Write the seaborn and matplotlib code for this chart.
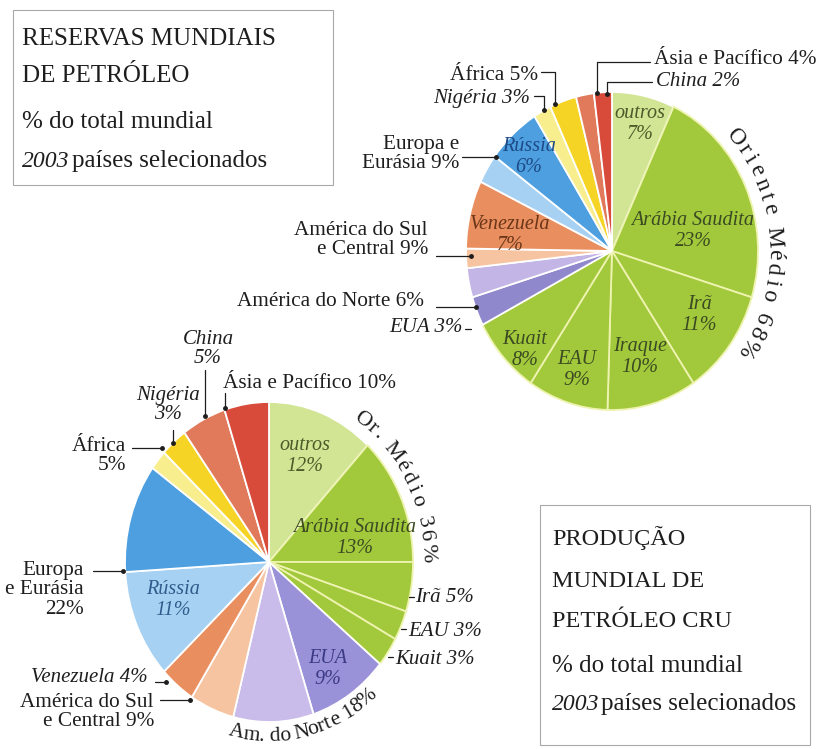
import numpy as np
import matplotlib.pyplot as plt
import seaborn as sns

sns.set_theme(style='white')
plt.rcParams['font.family'] = ['Liberation Serif', 'DejaVu Serif']

# Reservas mundiais de petróleo (% do total mundial, 2003), sentido horário a partir do topo
reservas = np.array([7, 23, 11, 10, 9, 8, 3, 3, 2, 7, 3, 6, 2, 3, 2, 2])
cores_reservas = ['#d2e595', '#a2c83b', '#a2c83b', '#a2c83b', '#a2c83b', '#a2c83b',
                  '#8f88cc', '#c3b5e5', '#f6c4a0', '#e98f5f', '#a6d1f2', '#4e9fe0',
                  '#f8ee8e', '#f6d425', '#e07a5b', '#d84a3a']

# Produção mundial de petróleo cru
producao = np.array([12, 13, 5, 3, 3, 9, 9, 5, 4, 11, 11, 2, 3, 5, 5])
cores_producao = ['#d2e595', '#a2c83b', '#a2c83b', '#a2c83b', '#a2c83b',
                  '#9a92d8', '#c9bbea', '#f6c4a0', '#e98f5f', '#a6d1f2', '#4e9fe0',
                  '#f8ee8e', '#f6d425', '#e07a5b', '#d84a3a']

# Pixel geometry of the two (slightly oval) pies
W, H = 819, 749
cx1, cy1, rx1, ry1 = 612, 251, 146, 159
cx2, cy2, rx2, ry2 = 269, 562, 144, 160

plt.figure(figsize=(W / 100, H / 100), dpi=100, facecolor='white')

# Draw both pies
for valores, cores, cx, cy, rx, ry, verdes in [(reservas, cores_reservas, cx1, cy1, rx1, ry1, 6),
                                               (producao, cores_producao, cx2, cy2, rx2, ry2, 5)]:
    plt.axes([(cx - 1.25 * rx) / W, 1 - (cy + 1.25 * ry) / H, 2.5 * rx / W, 2.5 * ry / H])
    wedges, _ = plt.pie(valores, colors=cores, startangle=90, counterclock=False,
                        wedgeprops={'edgecolor': 'white', 'linewidth': 1.3})
    for w in wedges[1:verdes]:
        w.set_edgecolor('#eef3b0')  # pale lines inside the green part
    plt.gca().set_aspect('auto')
    plt.xlim(-1.25, 1.25)
    plt.ylim(-1.25, 1.25)

# Overlay in pixel coordinates for boxes, labels and connectors
plt.axes([0, 0, 1, 1])
plt.xlim(0, W)
plt.ylim(H, 0)
plt.axis('off')

tinta = '#1e1e1e'

# Title boxes
plt.gca().add_patch(plt.Rectangle((13, 10), 320, 175, fill=False, edgecolor='#a8a8a8', linewidth=0.8))
plt.text(22, 45, 'RESERVAS MUNDIAIS', fontsize=18, color=tinta, va='baseline')
plt.text(22, 82, 'DE PETRÓLEO', fontsize=18, color=tinta, va='baseline')
plt.text(22, 128, '% do total mundial', fontsize=18, color=tinta, va='baseline')
plt.text(22, 167, '2003', fontsize=17, color=tinta, va='baseline', style='italic')
plt.text(72, 167, 'países selecionados', fontsize=18, color=tinta, va='baseline')

plt.gca().add_patch(plt.Rectangle((540, 505), 270, 240, fill=False, edgecolor='#a8a8a8', linewidth=0.8))
plt.text(552, 545, 'PRODUÇÃO', fontsize=17.5, color=tinta, va='baseline')
plt.text(552, 587, 'MUNDIAL DE', fontsize=17.5, color=tinta, va='baseline')
plt.text(552, 627, 'PETRÓLEO CRU', fontsize=17.5, color=tinta, va='baseline')
plt.text(552, 672, '% do total mundial', fontsize=18, color=tinta, va='baseline')
plt.text(552, 710, '2003', fontsize=17, color=tinta, va='baseline', style='italic')
plt.text(601, 710, 'países selecionados', fontsize=18, color=tinta, va='baseline')

# Labels inside the slices
dentro = [
    ('outros\n7%', 640, 124, '#4a5a28'),
    ('Arábia Saudita\n23%', 693, 231, '#3b4a22'),
    ('Irã\n11%', 699, 315, '#3b4a22'),
    ('Iraque\n10%', 640, 357, '#3b4a22'),
    ('Kuait\n8%', 525, 350, '#3b4a22'),
    ('EAU\n9%', 577, 370, '#3b4a22'),
    ('Rússia\n6%', 529, 157, '#1d4a86'),
    ('Venezuela\n7%', 510, 235, '#6a3518'),
    ('outros\n12%', 305, 456, '#4a5a28'),
    ('Arábia Saudita\n13%', 355, 538, '#3b4a22'),
    ('Rússia\n11%', 173, 600, '#2f5c8c'),
    ('EUA\n9%', 328, 669, '#3c3a85'),
]
for texto, x, y, cor in dentro:
    plt.text(x, y, texto, fontsize=14.5, style='italic', color=cor,
             ha='center', va='center', linespacing=1.1)

# Labels outside the pies: text, x, y, alignment, italic
fora = [
    ('Ásia e Pacífico 4%', 654, 60, 'left', False),
    ('China 2%', 656, 82, 'left', True),
    ('África 5%', 538, 76, 'right', False),
    ('Nigéria 3%', 530, 98, 'right', True),
    ('Europa e\nEurásia 9%', 459, 154, 'right', False),
    ('América do Sul\ne Central 9%', 428, 240, 'right', False),
    ('América do Norte 6%', 424, 302, 'right', False),
    ('EUA 3%', 463, 328, 'right', True),
    ('Ásia e Pacífico 10%', 223, 383, 'left', False),
    ('China\n5%', 208, 349, 'center', True),
    ('Nigéria\n3%', 168, 405, 'center', True),
    ('África\n5%', 126, 456, 'right', False),
    ('Europa\ne Eurásia\n22%', 84, 590, 'right', False),
    ('Venezuela 4%', 148, 678, 'right', True),
    ('América do Sul\ne Central 9%', 154, 712, 'right', False),
    ('Irã 5%', 415, 597, 'left', True),
    ('EAU 3%', 408, 632, 'left', True),
    ('Kuait 3%', 395, 660, 'left', True),
]
for texto, x, y, ha, italico in fora:
    plt.text(x, y, texto, fontsize=15 if italico else 15.3, color=tinta,
             style='italic' if italico else 'normal', ha=ha, va='center',
             multialignment=ha, linespacing=1.05)

# Connector lines (last point gets a dot when flagged)
conectores = [
    ([650, 597, 597], [62, 62, 93], True),
    ([652, 607, 607], [82, 82, 94], True),
    ([541, 555, 555], [72, 72, 104], True),
    ([534, 544, 544], [96, 96, 110], True),
    ([462, 496], [157, 157], True),
    ([436, 471], [256, 256], True),
    ([436, 476], [307, 307], True),
    ([465, 471], [329, 329], False),
    ([225, 225], [393, 408], True),
    ([205, 205], [370, 416], True),
    ([173, 173], [430, 443], True),
    ([132, 162], [448, 448], True),
    ([93, 123], [571, 571], True),
    ([155, 166], [682, 682], True),
    ([160, 190], [700, 700], True),
    ([409, 414], [597, 597], False),
    ([401, 406], [629, 629], False),
    ([388, 393], [657, 657], False),
]
for xs, ys, ponto in conectores:
    plt.plot(xs, ys, color=tinta, linewidth=0.9)
    if ponto:
        plt.plot(xs[-1], ys[-1], 'o', color=tinta, markersize=2.5)


def largura(c):
    """Rough advance width of a glyph, in em."""
    if c in ' .':
        return 0.25
    if c in 'Mm%':
        return 0.82
    if c.isupper():
        return 0.7
    if c in 'irtlf':
        return 0.32
    return 0.5


# Text that follows the rim of the pies: text, pie, radius, start/end angle, font size, tracking, bottom
arcos = [
    ('Oriente Médio 68%', cx1, cy1, rx1, ry1, 1.11, 50, 123, 17, 0.35, False),
    ('Or. Médio 36%', cx2, cy2, rx2, ry2, 1.10, 36, 87, 16, 0.2, False),
    ('Am. do Norte 18%', cx2, cy2, rx2, ry2, 1.09, 192, 141, 15.5, 0.03, True),
]
for texto, cx, cy, rx, ry, r, a0, a1, tam, extra, embaixo in arcos:
    larg = np.array([largura(c) + extra for c in texto])
    pos = np.cumsum(larg) - larg / 2
    angs = a0 + (a1 - a0) * (pos - pos[0]) / (pos[-1] - pos[0])
    for c, a in zip(texto, angs):
        t = np.radians(a)
        plt.text(cx + r * rx * np.sin(t), cy - r * ry * np.cos(t), c, fontsize=tam, color=tinta,
                 rotation=180 - a if embaixo else -a, rotation_mode='anchor',
                 ha='center', va='center')

plt.savefig('out.png', dpi=100, facecolor='white')
print('Done. Image saved as out.png')
